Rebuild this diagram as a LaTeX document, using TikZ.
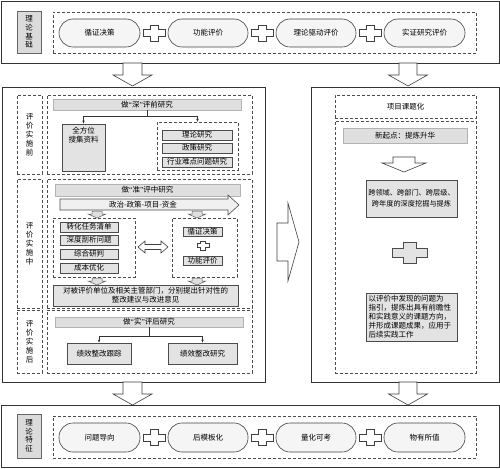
\documentclass[tikz,border=0pt]{standalone}
\usepackage{fontspec}
\setmainfont{Noto Sans CJK SC}
\newfontfamily\qfont{Liberation Serif}
\newcommand\myopq{{\qfont “}}
\newcommand\myclq{{\qfont ”}}
\usetikzlibrary{arrows.meta}
\newcommand\rbox[7]{\node[#6, minimum width={#4-#2}, minimum height={#5-#3}] (#1) at ({(#2+#4)/2},{(#3+#5)/2}) {#7};}
% block arrow pointing down: cx, top, shaft half width, head base y, head half width, tip y, style
\newcommand\blockdown[7]{\draw[#7] ({#1-#3},#2) -- ({#1+#3},#2) -- ({#1+#3},#4) -- ({#1+#5},#4) -- (#1,#6) -- ({#1-#5},#4) -- ({#1-#3},#4) -- cycle;}
% plus sign: cx, cy, half width, half height, half vertical arm, half horizontal arm, style
\newcommand\myplus[7]{\draw[#7] ({#1-#5},{#2-#4}) -- ({#1+#5},{#2-#4}) -- ({#1+#5},{#2-#6}) -- ({#1+#3},{#2-#6}) -- ({#1+#3},{#2+#6}) -- ({#1+#5},{#2+#6}) -- ({#1+#5},{#2+#4}) -- ({#1-#5},{#2+#4}) -- ({#1-#5},{#2+#6}) -- ({#1-#3},{#2+#6}) -- ({#1-#3},{#2-#6}) -- ({#1-#5},{#2-#6}) -- cycle;}
\begin{document}
\begin{tikzpicture}[x=1pt,y=-1pt,
  every node/.style={inner sep=0pt, align=center, font=\fontsize{7.5}{9}\selectfont},
  outer/.style={draw=black!80, line width=0.8pt},
  lbl/.style={draw=black!60, fill=gray!28, line width=0.6pt, font=\fontsize{7.5}{8.6}\selectfont},
  dbox/.style={draw=black!70, line width=0.6pt, dash pattern=on 3pt off 2pt},
  pill/.style={draw=black!75, fill=gray!8, line width=0.6pt, rounded corners=14pt},
  bar/.style={draw=gray!60, fill=gray!25, line width=0.5pt},
  gbox/.style={draw=black!70, fill=gray!22, line width=0.9pt},
  arr/.style={draw=black!75, fill=white, line width=0.6pt},
  garr/.style={draw=black!65, fill=gray!25, line width=0.5pt},
  conn/.style={draw=black!80, line width=0.5pt, -{Stealth[length=3pt,width=2.5pt]}}]
\useasboundingbox (0,0) rectangle (500,468);
\fill[white] (0,0) rectangle (500,468);

% ---------- top frame ----------
\rbox{topframe}{1}{1}{499}{63}{outer}{}
\rbox{lbltop}{17}{11}{41}{53}{lbl}{理\\论\\基\\础}
\rbox{dtop}{53}{12}{476}{53}{dbox}{}
\rbox{p1}{59}{19}{140}{47}{pill}{循证决策}
\rbox{p2}{168}{19}{248}{47}{pill}{功能评价}
\rbox{p3}{276}{19}{356}{47}{pill}{理论驱动评价}
\rbox{p4}{384}{19}{465}{47}{pill}{实证研究评价}
\myplus{154}{33}{11}{8}{4}{3.5}{arr}
\myplus{262}{33}{11}{8}{4}{3.5}{arr}
\myplus{370}{33}{11}{8}{4}{3.5}{arr}

\blockdown{132.5}{63}{9.5}{75}{19.5}{86}{arr}
\blockdown{408}{63}{9}{75}{19.5}{86}{arr}

% ---------- left panel ----------
\rbox{leftframe}{2}{87}{265}{382}{outer}{}

% pre
\rbox{lpre}{17}{95}{42}{174}{dbox}{评\\价\\实\\施\\前}
\rbox{cpre}{47}{95}{252}{174}{dbox}{}
\rbox{bar1}{53}{99}{241}{110}{bar}{做\myopq 深\myclq 评前研究}
\rbox{qfw}{62}{124}{105}{171}{gbox}{}
\node[anchor=north] (qfwt) at ([yshift=-3pt]qfw.north) {全方位\\搜集资料};
\rbox{rdash}{157}{122}{238}{170}{dbox}{}
\rbox{ll1}{162}{130}{232}{140}{gbox, line width=0.7pt}{理论研究}
\rbox{ll2}{162}{143}{232}{153}{gbox, line width=0.7pt}{政策研究}
\rbox{ll3}{162}{157}{232}{167}{gbox, line width=0.7pt}{行业难点问题研究}
\draw[conn] (bar1.south) -- ++(0,6) -| (qfw.north);
\draw[conn] (bar1.south) -- ++(0,6) -| (rdash.north);

% mid
\rbox{lmid}{17}{179}{42}{308}{dbox}{评\\价\\实\\施\\中}
\rbox{cmid}{47}{179}{252}{308}{dbox}{}
\rbox{bar2}{55}{184}{240}{196}{bar}{做\myopq 准\myclq 评中研究}
\draw[draw=black!70, fill=gray!12, line width=0.6pt] (60,199) -- (228,199) -- (228,195) -- (239,205) -- (228,215) -- (228,210) -- (60,210) -- cycle;
\node (zz) at (143,205) {政治-政策-项目-资金};
\blockdown{97}{211}{5}{214}{9}{218}{garr}
\blockdown{197}{211}{5}{214}{9}{218}{garr}
\rbox{mleft}{53}{218}{135}{277}{dbox}{}
\rbox{m1}{60}{222}{118}{232}{gbox, line width=0.7pt}{转化任务清单}
\rbox{m2}{60}{235}{118}{245}{gbox, line width=0.7pt}{深度剖析问题}
\rbox{m3}{60}{249}{118}{259}{gbox, line width=0.7pt}{综合研判}
\rbox{m4}{60}{263}{118}{273}{gbox, line width=0.7pt}{成本优化}
\draw[arr] (138,247) -- (145,241) -- (145,244.5) -- (161,244.5) -- (161,241) -- (168,247) -- (161,253) -- (161,249.5) -- (145,249.5) -- (145,253) -- cycle;
\rbox{mright}{172}{218}{237}{277}{dbox}{}
\rbox{m5}{183}{227}{222}{236}{gbox, line width=0.7pt}{循证决策}
\myplus{203}{245.5}{6}{4.5}{2.5}{2}{arr}
\rbox{m6}{183}{256}{222}{265}{gbox, line width=0.7pt}{功能评价}
\blockdown{97}{278}{5}{281}{9}{285}{garr}
\blockdown{197}{278}{5}{281}{9}{285}{garr}
\rbox{mbot}{53}{285}{238}{306}{gbox}{对被评价单位及相关主管部门，分别提出针对性的\\整改建议与改进意见}

% post
\rbox{lpost}{17}{310}{42}{373}{dbox}{评\\价\\实\\施\\后}
\rbox{cpost}{47}{310}{252}{373}{dbox}{}
\rbox{bar3}{55}{317}{243}{327}{bar}{做\myopq 实\myclq 评后研究}
\rbox{pb1}{67}{343}{131}{364}{gbox}{绩效整改跟踪}
\rbox{pb2}{168}{343}{237}{364}{gbox}{绩效整改研究}
\draw[conn] (bar3.south) -- ++(0,9) -| (pb1.north);
\draw[conn] (bar3.south) -- ++(0,9) -| (pb2.north);

% ---------- middle arrow ----------
\draw[arr] (277,223) -- (288,223) -- (288,203) -- (299,242) -- (288,281) -- (288,261) -- (277,261) -- cycle;

% ---------- right panel ----------
\rbox{rightframe}{311}{87}{499}{382}{outer}{}
\rbox{ra}{335}{95}{476}{118}{dbox}{项目课题化}
\rbox{rb}{335}{121}{476}{373}{dbox}{}
\rbox{rbar}{343}{128}{467}{143}{bar}{新起点：提炼升华}
\blockdown{404}{157}{11}{163}{22}{172}{arr}
\rbox{rx1}{366}{180}{457}{217}{gbox, font=\fontsize{7.2}{11}\selectfont}{跨领域、跨部门、跨层级、\\跨年度的深度挖掘与提炼}
\myplus{409.5}{252.5}{17.5}{10.5}{6.5}{4.5}{draw=black!70, fill=gray!22, line width=0.7pt}
\rbox{rx2}{366}{293}{457}{341}{gbox, align=left, text width=86pt, font=\fontsize{7.5}{9}\selectfont}{以评价中发现的问题为\\指引，提炼出具有前瞻性\\和实践意义的课题方向，\\并形成课题成果，应用于\\后续实践工作}

\blockdown{132.5}{382}{9.5}{394}{19.5}{405}{arr}
\blockdown{408}{382}{9}{394}{19.5}{405}{arr}

% ---------- bottom frame ----------
\rbox{botframe}{1}{405}{499}{467}{outer}{}
\rbox{lblbot}{17}{414}{41}{458}{lbl}{理\\论\\特\\征}
\rbox{dbot}{53}{416}{476}{458}{dbox}{}
\rbox{q1}{59}{423}{140}{452}{pill}{问题导向}
\rbox{q2}{168}{423}{248}{452}{pill}{后模板化}
\rbox{q3}{276}{423}{356}{452}{pill}{量化可考}
\rbox{q4}{384}{423}{465}{452}{pill}{物有所值}
\myplus{154}{437.5}{11}{8}{4}{3.5}{arr}
\myplus{262}{437.5}{11}{8}{4}{3.5}{arr}
\myplus{370}{437.5}{11}{8}{4}{3.5}{arr}
\end{tikzpicture}
\end{document}
